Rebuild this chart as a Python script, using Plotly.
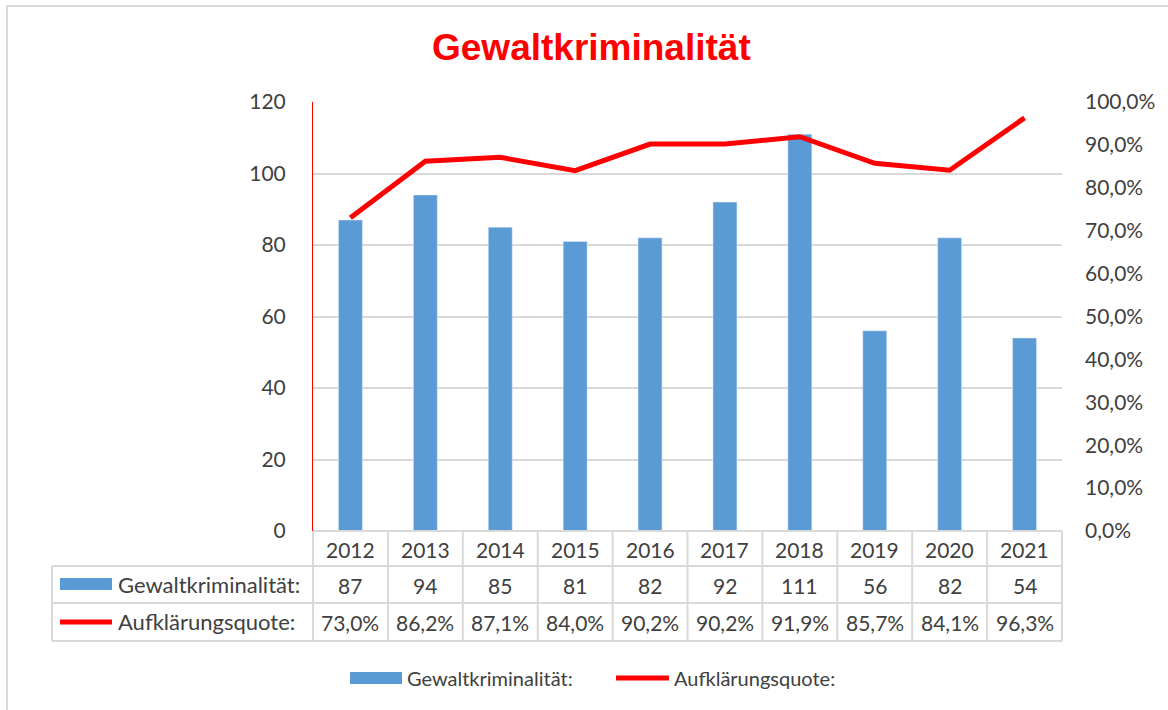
import plotly.graph_objects as go

years = ["2012", "2013", "2014", "2015", "2016", "2017", "2018", "2019", "2020", "2021"]
gewalt = [87, 94, 85, 81, 82, 92, 111, 56, 82, 54]
quote = [0.730, 0.862, 0.871, 0.840, 0.902, 0.902, 0.919, 0.857, 0.841, 0.963]
series_names = ["Gewaltkriminalität:", "Aufklärungsquote:"]
title_text = "Gewaltkriminalität"

W, H = 1168, 710
L, R, T, B = 313, 1062, 102, 531
PW, PH = R - L, B - T

def px(x):
    return (x - L) / PW

def py(y):
    return (B - y) / PH

def cat_paper(i):
    return (i + 0.5) / len(years)

BLUE = "#5B9BD5"
RED = "#FF0000"
GRID = "#D9D9D9"
TXT = "#404040"
FONT = "Lato"
NUM = 21

fig = go.Figure()
fig.add_trace(go.Bar(x=years, y=gewalt, name=series_names[0], marker_color=BLUE,
                     width=0.32, yaxis="y", showlegend=False))
fig.add_trace(go.Scatter(x=years, y=quote, name=series_names[1], mode="lines",
                         line=dict(color=RED, width=5), yaxis="y2", showlegend=False))

shapes = []
annotations = []

# outer border (only top and left visible)
shapes.append(dict(type="rect", xref="paper", yref="paper", x0=px(7), x1=px(1180), y0=py(720), y1=py(6),
                   line=dict(color="#D9D9D9", width=2), layer="below"))

# data table grid
row_y = [531, 566, 603, 641]
for i in range(len(years) + 1):
    xb = i / len(years)
    shapes.append(dict(type="line", xref="paper", yref="paper", x0=xb, x1=xb, y0=py(531), y1=py(641),
                       line=dict(color=GRID, width=2)))
for yy in row_y[1:]:
    shapes.append(dict(type="line", xref="paper", yref="paper", x0=px(52), x1=1.0, y0=py(yy), y1=py(yy),
                       line=dict(color=GRID, width=2)))
shapes.append(dict(type="line", xref="paper", yref="paper", x0=0, x1=1.0, y0=py(531), y1=py(531),
                   line=dict(color=GRID, width=2)))
shapes.append(dict(type="line", xref="paper", yref="paper", x0=px(52), x1=px(52), y0=py(566), y1=py(641),
                   line=dict(color=GRID, width=2)))

# row labels with keys
shapes.append(dict(type="rect", xref="paper", yref="paper", x0=px(60), x1=px(112), y0=py(590), y1=py(578),
                   fillcolor=BLUE, line=dict(width=0)))
shapes.append(dict(type="line", xref="paper", yref="paper", x0=px(60), x1=px(112), y0=py(622), y1=py(622),
                   line=dict(color=RED, width=5)))
annotations.append(dict(xref="paper", yref="paper", x=px(116), y=py(584), text=series_names[0],
                        showarrow=False, xanchor="left", yanchor="middle", font=dict(size=22, color=TXT, family=FONT)))
annotations.append(dict(xref="paper", yref="paper", x=px(116), y=py(621), text=series_names[1],
                        showarrow=False, xanchor="left", yanchor="middle", font=dict(size=22, color=TXT, family=FONT)))

for i, yr in enumerate(years):
    xc = cat_paper(i)
    annotations.append(dict(xref="paper", yref="paper", x=xc, y=py(549), text=yr, showarrow=False,
                            xanchor="center", yanchor="middle", font=dict(size=NUM, color=TXT, family=FONT)))
    annotations.append(dict(xref="paper", yref="paper", x=xc, y=py(585), text=str(gewalt[i]), showarrow=False,
                            xanchor="center", yanchor="middle", font=dict(size=NUM, color=TXT, family=FONT)))
    annotations.append(dict(xref="paper", yref="paper", x=xc, y=py(622),
                            text=f"{quote[i]*100:.1f}%".replace(".", ","), showarrow=False,
                            xanchor="center", yanchor="middle", font=dict(size=NUM, color=TXT, family=FONT)))

# bottom legend
shapes.append(dict(type="rect", xref="paper", yref="paper", x0=px(350), x1=px(402), y0=py(684), y1=py(672),
                   fillcolor=BLUE, line=dict(width=0)))
shapes.append(dict(type="line", xref="paper", yref="paper", x0=px(616), x1=px(669), y0=py(678), y1=py(678),
                   line=dict(color=RED, width=5)))
annotations.append(dict(xref="paper", yref="paper", x=px(405), y=py(678), text=series_names[0],
                        showarrow=False, xanchor="left", yanchor="middle", font=dict(size=20, color=TXT, family=FONT)))
annotations.append(dict(xref="paper", yref="paper", x=px(672), y=py(678), text=series_names[1],
                        showarrow=False, xanchor="left", yanchor="middle", font=dict(size=20, color=TXT, family=FONT)))

# title
annotations.append(dict(xref="paper", yref="paper", x=px(591), y=py(47), text=f"<b>{title_text}</b>",
                        showarrow=False, xanchor="center", yanchor="middle",
                        font=dict(size=37, color=RED, family="Liberation Sans, Arial")))

fig.update_layout(
    width=W, height=H,
    margin=dict(l=L, r=W - R, t=T, b=H - B, pad=0),
    paper_bgcolor="white", plot_bgcolor="white",
    separators=",.",
    font=dict(family=FONT, size=NUM, color=TXT),
    xaxis=dict(type="category", range=[-0.5, 9.5], showticklabels=False, showgrid=False,
               showline=False, zeroline=False, ticks=""),
    yaxis=dict(range=[0, 120], dtick=20, showgrid=True, gridcolor=GRID, gridwidth=2,
               showline=True, linecolor=RED, linewidth=1, zeroline=False, ticks="",
               ticklabelstandoff=22, tickfont=dict(size=NUM, color=TXT, family=FONT)),
    yaxis2=dict(range=[0, 1], dtick=0.1, tickformat=".1%", overlaying="y", side="right",
                showgrid=False, zeroline=False, showline=False, ticks="",
                ticklabelstandoff=22, tickfont=dict(size=NUM, color=TXT, family=FONT)),
    shapes=shapes,
    annotations=annotations,
    showlegend=False,
)

fig.write_html("out.html", config={"displayModeBar": False},
               post_script="document.body.style.margin='0';document.body.style.overflow='hidden';")
